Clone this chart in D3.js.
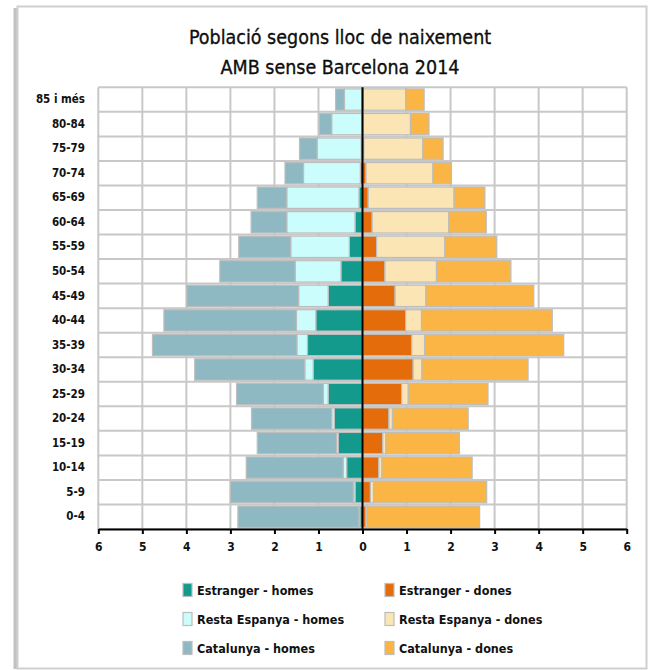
<!DOCTYPE html>
<html>
<head>
<meta charset="utf-8">
<script src="https://cdn.jsdelivr.net/npm/d3@7"></script>
<style>
  html, body { margin: 0; padding: 0; background: #fff; }
  svg { display: block; }
  text { font-family: "Liberation Sans Narrow", "DejaVu Sans Condensed", "Arial Narrow", sans-serif; fill: #111; }
</style>
</head>
<body>
<svg id="chart" width="652" height="670"></svg>
<script>
// ---- data ----
const ageGroups = ["0-4","5-9","10-14","15-19","20-24","25-29","30-34","35-39","40-44","45-49","50-54","55-59","60-64","65-69","70-74","75-79","80-84","85 i més"];
const estrangerHomes = [0.06,0.17,0.36,0.55,0.64,0.78,1.12,1.25,1.06,0.78,0.49,0.30,0.17,0.08,0.05,0.03,0.01,0.01];
const restaHomes     = [0.02,0.04,0.08,0.04,0.06,0.11,0.19,0.24,0.44,0.67,1.04,1.33,1.55,1.64,1.29,1.00,0.69,0.40];
const catalunyaHomes = [2.75,2.79,2.20,1.80,1.82,1.97,2.50,3.28,3.01,2.54,1.71,1.18,0.81,0.67,0.42,0.40,0.28,0.20];
const estrangerDones = [0.08,0.18,0.37,0.46,0.60,0.89,1.15,1.12,0.98,0.74,0.51,0.32,0.22,0.13,0.08,0.03,0.01,0.02];
const restaDones     = [0.03,0.07,0.07,0.07,0.08,0.15,0.20,0.29,0.36,0.70,1.17,1.55,1.74,1.95,1.52,1.34,1.08,0.96];
const catalunyaDones = [2.55,2.57,2.05,1.67,1.72,1.81,2.41,3.16,2.97,2.45,1.69,1.18,0.85,0.70,0.42,0.46,0.42,0.42];
const xTicks = [-6,-5,-4,-3,-2,-1,0,1,2,3,4,5,6];
const titleLines = ["Població segons lloc de naixement", "AMB sense Barcelona 2014"];

const seriesHomes = [
  {name: "Estranger - homes", values: estrangerHomes, color: "#139a8c"},
  {name: "Resta Espanya - homes", values: restaHomes, color: "#ccfdfd"},
  {name: "Catalunya - homes", values: catalunyaHomes, color: "#8fb9c2"}
];
const seriesDones = [
  {name: "Estranger - dones", values: estrangerDones, color: "#e46c0a"},
  {name: "Resta Espanya - dones", values: restaDones, color: "#fbe5b5"},
  {name: "Catalunya - dones", values: catalunyaDones, color: "#fbb544"}
];

// ---- layout ----
const svg = d3.select("#chart");
const plot = {left: 98.3, right: 626.7, top: 87.3, bottom: 529};

// outer frame with shadow
svg.append("rect").attr("x", 13.5).attr("y", 8).attr("width", 4.5).attr("height", 661)
  .attr("fill", "#a8a8a8").attr("opacity", 0.7);
svg.append("rect").attr("x", 17.5).attr("y", 6.5).attr("width", 629).attr("height", 662)
  .attr("fill", "#fff").attr("stroke", "#cfcfcf").attr("stroke-width", 2);

// title
svg.selectAll("text.title").data(titleLines).enter().append("text")
  .attr("class", "title")
  .attr("x", 340).attr("y", (d, i) => 44 + i * 30)
  .attr("text-anchor", "middle")
  .style("font-size", "19.5px")
  .attr("fill", "#000")
  .attr("stroke", "#000").attr("stroke-width", 0.3)
  .text(d => d);

const x = d3.scaleLinear().domain([-6, 6]).range([plot.left, plot.right]);
const y = d3.scaleBand().domain(ageGroups.slice().reverse()).range([plot.top, plot.bottom]).padding(0);

const grid = svg.append("g");
// horizontal grid lines at band boundaries
const bounds = ageGroups.map((d) => y(d)).concat([plot.bottom]);
grid.selectAll("line.h").data(bounds).enter().append("line")
  .attr("x1", plot.left).attr("x2", plot.right)
  .attr("y1", d => d).attr("y2", d => d)
  .attr("stroke", "#c8c8c8").attr("stroke-width", 2);
// vertical grid lines
grid.selectAll("line.v").data(xTicks).enter().append("line")
  .attr("x1", d => x(d)).attr("x2", d => x(d))
  .attr("y1", plot.top).attr("y2", plot.bottom)
  .attr("stroke", "#c8c8c8").attr("stroke-width", 2);

// bars
function drawSide(series, sign) {
  const g = svg.append("g");
  const cum = ageGroups.map(() => 0);
  series.forEach(s => {
    const rows = s.values.map((v, i) => {
      const start = cum[i];
      cum[i] += v;
      return {age: ageGroups[i], a: start, b: start + v};
    });
    g.selectAll(null).data(rows).enter().append("rect")
      .attr("x", d => Math.min(x(sign * d.a), x(sign * d.b)))
      .attr("width", d => Math.abs(x(sign * d.b) - x(sign * d.a)))
      .attr("y", d => y(d.age) + 1.6)
      .attr("height", y.bandwidth() - 3.2)
      .attr("fill", s.color)
      .attr("stroke", "#bdbdbd").attr("stroke-width", 1.2);
  });
}
drawSide(seriesHomes, -1);
drawSide(seriesDones, 1);

// zero line
svg.append("line").attr("x1", x(0)).attr("x2", x(0))
  .attr("y1", plot.top).attr("y2", plot.bottom)
  .attr("stroke", "#000").attr("stroke-width", 2);

// x axis
const xAxis = d3.axisBottom(x).tickValues(xTicks).tickFormat(d => Math.abs(d)).tickSize(5).tickSizeOuter(0);
const ax = svg.append("g").attr("transform", `translate(0,${plot.bottom})`).call(xAxis);
ax.select(".domain").attr("stroke", "#000").attr("stroke-width", 2);
ax.selectAll(".tick line").attr("stroke", "#000").attr("stroke-width", 2);
ax.selectAll(".tick text").attr("y", 13).style("font-size", "12px").style("font-weight", "bold")
  .style("font-family", "'Liberation Sans Narrow', 'DejaVu Sans Condensed', sans-serif").attr("fill", "#222");

// y labels
const yAxis = d3.axisLeft(y).tickSize(0).tickPadding(0);
const ay = svg.append("g").attr("transform", `translate(85,0)`).call(yAxis);
ay.select(".domain").remove();
ay.selectAll(".tick text").style("font-size", "11.5px").style("font-weight", "bold")
  .style("font-family", "'Liberation Sans Narrow', 'DejaVu Sans Condensed', sans-serif").attr("fill", "#222");

// legend
const legendItems = [];
seriesHomes.forEach((s, i) => { legendItems.push({s, col: 0, row: i}); legendItems.push({s: seriesDones[i], col: 1, row: i}); });
const lg = svg.append("g");
const li = lg.selectAll("g").data(legendItems).enter().append("g")
  .attr("transform", d => `translate(${183 + d.col * 202},${590 + d.row * 29})`);
li.append("rect").attr("x", 0).attr("y", -6.5).attr("width", 9).attr("height", 13)
  .attr("fill", d => d.s.color).attr("stroke", "#bdbdbd").attr("stroke-width", 1.2);
li.append("text").attr("x", 14).attr("y", 5).style("font-size", "12.5px").style("font-weight", "bold")
  .attr("fill", "#222").text(d => d.s.name);
</script>
</body>
</html>
